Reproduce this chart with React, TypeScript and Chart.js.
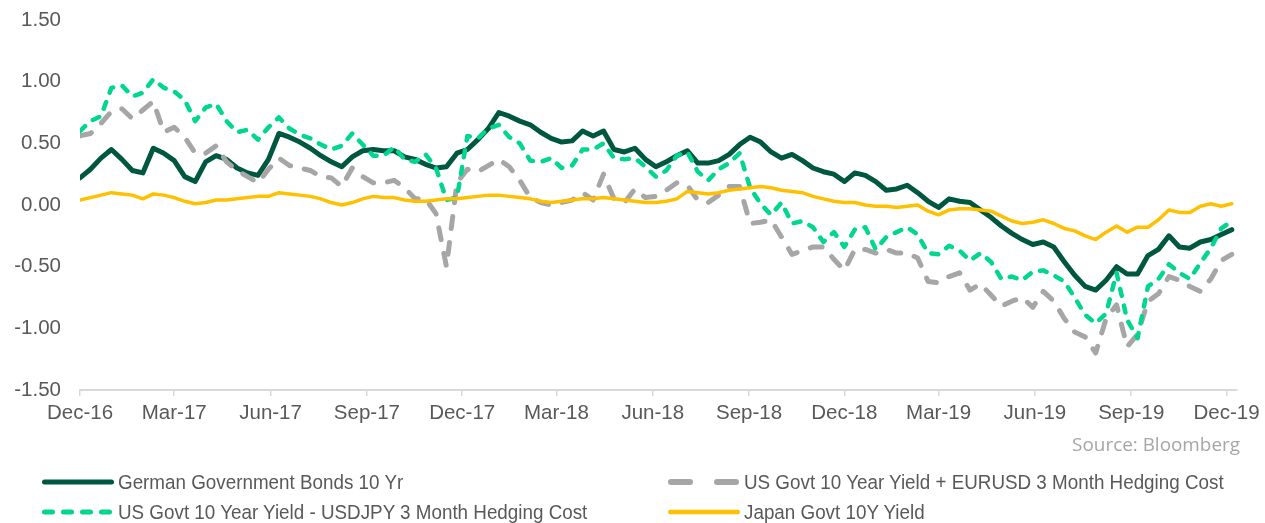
import React, { useEffect, useRef } from "react";
import { Chart, registerables } from "chart.js";

Chart.register(...registerables);

// ---- time axis (days since 1 Dec 2016, one sample every 10 days) ----
const STEP_DAYS = 10;
const AXIS_MAX_DAYS = 1105;
const tickLabels = [
  "Dec-16", "Mar-17", "Jun-17", "Sep-17", "Dec-17", "Mar-18", "Jun-18",
  "Sep-18", "Dec-18", "Mar-19", "Jun-19", "Sep-19", "Dec-19",
];
const yTicks = [-1.5, -1.0, -0.5, 0.0, 0.5, 1.0, 1.5];

// ---- series (yield, %) ----
const germanBund10y = [
  0.22, 0.29, 0.38, 0.45, 0.37, 0.28, 0.26, 0.46, 0.42, 0.36,
  0.23, 0.19, 0.35, 0.40, 0.37, 0.30, 0.26, 0.24, 0.37, 0.58,
  0.55, 0.51, 0.46, 0.40, 0.35, 0.31, 0.39, 0.44, 0.45, 0.44,
  0.44, 0.39, 0.37, 0.33, 0.30, 0.31, 0.42, 0.45, 0.53, 0.62,
  0.75, 0.72, 0.68, 0.65, 0.59, 0.54, 0.51, 0.52, 0.60, 0.56,
  0.60, 0.45, 0.43, 0.46, 0.37, 0.31, 0.35, 0.40, 0.44, 0.34,
  0.34, 0.36, 0.41, 0.49, 0.55, 0.51, 0.43, 0.38, 0.41, 0.36,
  0.30, 0.27, 0.25, 0.19, 0.26, 0.24, 0.19, 0.12, 0.13, 0.16,
  0.10, 0.03, -0.02, 0.05, 0.03, 0.02, -0.04, -0.10, -0.17, -0.23,
  -0.28, -0.32, -0.30, -0.34, -0.46, -0.57, -0.66, -0.69, -0.61, -0.50,
  -0.56, -0.56, -0.41, -0.36, -0.25, -0.34, -0.35, -0.30, -0.28, -0.24, -0.20,
];

const usPlusEurHedge = [
  0.56, 0.58, 0.66, 0.76, 0.78, 0.70, 0.77, 0.84, 0.59, 0.63,
  0.55, 0.42, 0.42, 0.48, 0.35, 0.28, 0.23, 0.18, 0.29, 0.38,
  0.32, 0.30, 0.28, 0.23, 0.22, 0.15, 0.30, 0.23, 0.18, 0.18,
  0.20, 0.14, 0.05, 0.05, -0.07, -0.50, 0.18, 0.29, 0.27, 0.32,
  0.37, 0.31, 0.20, 0.06, 0.02, 0.00, 0.02, 0.04, 0.10, 0.04,
  0.25, 0.05, 0.02, 0.13, 0.06, 0.07, 0.12, 0.18, 0.16, 0.04,
  0.02, 0.08, 0.15, 0.15, -0.15, -0.14, -0.12, -0.26, -0.40, -0.37,
  -0.34, -0.34, -0.44, -0.53, -0.36, -0.36, -0.39, -0.36, -0.39, -0.39,
  -0.43, -0.62, -0.63, -0.58, -0.55, -0.69, -0.64, -0.73, -0.82, -0.78,
  -0.75, -0.83, -0.70, -0.78, -0.92, -1.03, -1.07, -1.20, -0.92, -0.81,
  -1.15, -1.05, -0.78, -0.72, -0.58, -0.61, -0.66, -0.70, -0.60, -0.45, -0.40,
];

const usMinusJpyHedge = [
  0.60, 0.68, 0.72, 0.95, 0.97, 0.88, 0.91, 1.02, 0.95, 0.92,
  0.85, 0.68, 0.79, 0.82, 0.68, 0.59, 0.61, 0.53, 0.63, 0.71,
  0.62, 0.57, 0.54, 0.49, 0.45, 0.48, 0.58, 0.49, 0.40, 0.40,
  0.47, 0.37, 0.35, 0.41, 0.30, 0.04, 0.06, 0.56, 0.54, 0.62,
  0.65, 0.55, 0.50, 0.36, 0.35, 0.38, 0.30, 0.32, 0.45, 0.45,
  0.50, 0.38, 0.37, 0.38, 0.31, 0.23, 0.28, 0.40, 0.43, 0.27,
  0.20, 0.29, 0.34, 0.42, 0.14, 0.01, -0.08, 0.02, -0.15, -0.13,
  -0.18, -0.30, -0.22, -0.34, -0.20, -0.18, -0.36, -0.26, -0.22, -0.18,
  -0.24, -0.39, -0.40, -0.33, -0.37, -0.45, -0.39, -0.46, -0.60, -0.58,
  -0.61, -0.54, -0.53, -0.57, -0.62, -0.75, -0.89, -0.96, -0.88, -0.55,
  -0.93, -1.08, -0.66, -0.60, -0.48, -0.55, -0.60, -0.47, -0.35, -0.19, -0.13,
];

const japanGovt10y = [
  0.04, 0.06, 0.08, 0.10, 0.09, 0.08, 0.05, 0.09, 0.08, 0.06,
  0.03, 0.01, 0.02, 0.04, 0.04, 0.05, 0.06, 0.07, 0.07, 0.10,
  0.09, 0.08, 0.07, 0.05, 0.02, 0.00, 0.02, 0.05, 0.07, 0.06,
  0.06, 0.04, 0.03, 0.03, 0.04, 0.05, 0.05, 0.06, 0.07, 0.08,
  0.08, 0.07, 0.06, 0.05, 0.03, 0.02, 0.03, 0.04, 0.05, 0.05,
  0.06, 0.05, 0.04, 0.03, 0.02, 0.02, 0.03, 0.05, 0.11, 0.10,
  0.09, 0.10, 0.12, 0.13, 0.14, 0.15, 0.14, 0.12, 0.11, 0.10,
  0.07, 0.05, 0.03, 0.02, 0.02, 0.00, -0.01, -0.01, -0.02, -0.01,
  0.00, -0.05, -0.08, -0.04, -0.03, -0.03, -0.04, -0.05, -0.09, -0.13,
  -0.15, -0.14, -0.12, -0.15, -0.19, -0.21, -0.25, -0.28, -0.22, -0.17,
  -0.22, -0.18, -0.18, -0.12, -0.04, -0.06, -0.06, -0.01, 0.01, -0.01, 0.01,
];

const seriesLabels = [
  "German Government Bonds 10 Yr",
  "US Govt 10 Year Yield + EURUSD 3 Month Hedging Cost",
  "US Govt 10 Year Yield - USDJPY 3 Month Hedging Cost",
  "Japan Govt 10Y Yield",
];

const COLORS = {
  german: "#00573F",
  eur: "#A6A6A6",
  jpy: "#00D68F",
  japan: "#FFC000",
};

const DAY_MS = 86400000;
const START_MS = Date.UTC(2016, 11, 1);
const tickDays = tickLabels.map((_, k) =>
  Math.round((Date.UTC(2016, 11 + 3 * k, 1) - START_MS) / DAY_MS)
);

const toPoints = (vals: number[]) => vals.map((v, i) => ({ x: i * STEP_DAYS, y: v }));

const AXIS_FONT = "'Liberation Sans', Arial, Helvetica, sans-serif";

type LegendSpec = {
  label: string;
  color: string;
  width: number;
  dash: string;
  left: number;
  cy: number;
};

const SAMPLE_W = 80;
const SAMPLE_SPAN = 72;

function LegendItem({ spec }: { spec: LegendSpec }) {
  const x1 = 4 + spec.width / 2;
  const x2 = 4 + SAMPLE_SPAN - spec.width / 2;
  return (
    <div
      style={{
        position: "absolute",
        left: spec.left,
        top: spec.cy - 12,
        height: 24,
        display: "flex",
        alignItems: "center",
        whiteSpace: "nowrap",
      }}
    >
      <svg width={SAMPLE_W} height={12} style={{ display: "block", flex: "none" }}>
        <line
          x1={x1}
          y1={6}
          x2={x2}
          y2={6}
          stroke={spec.color}
          strokeWidth={spec.width}
          strokeLinecap="round"
          strokeDasharray={spec.dash || undefined}
        />
      </svg>
      <span
        style={{
          display: "inline-block",
          fontFamily: AXIS_FONT,
          fontSize: 20.5,
          lineHeight: "24px",
          color: "#595959",
          transform: "scaleX(0.918)",
          transformOrigin: "left center",
        }}
      >
        {spec.label}
      </span>
    </div>
  );
}

export default function App() {
  const canvasRef = useRef<HTMLCanvasElement | null>(null);

  useEffect(() => {
    const canvas = canvasRef.current;
    if (!canvas) return;
    const chart = new Chart(canvas, {
      type: "line",
      data: {
        datasets: [
          {
            label: seriesLabels[0],
            data: toPoints(germanBund10y),
            borderColor: COLORS.german,
            borderWidth: 5,
            pointRadius: 0,
            tension: 0,
            borderCapStyle: "round",
            borderJoinStyle: "round",
            order: 4,
          },
          {
            label: seriesLabels[1],
            data: toPoints(usPlusEurHedge),
            borderColor: COLORS.eur,
            borderWidth: 5,
            borderDash: [12, 14],
            pointRadius: 0,
            tension: 0,
            borderCapStyle: "round",
            borderJoinStyle: "round",
            order: 3,
          },
          {
            label: seriesLabels[2],
            data: toPoints(usMinusJpyHedge),
            borderColor: COLORS.jpy,
            borderWidth: 4.5,
            borderDash: [7, 10],
            pointRadius: 0,
            tension: 0,
            borderCapStyle: "round",
            borderJoinStyle: "round",
            order: 2,
          },
          {
            label: seriesLabels[3],
            data: toPoints(japanGovt10y),
            borderColor: COLORS.japan,
            borderWidth: 3.5,
            pointRadius: 0,
            tension: 0,
            borderCapStyle: "round",
            borderJoinStyle: "round",
            order: 1,
          },
        ],
      },
      options: {
        responsive: false,
        animation: false,
        events: [],
        layout: { padding: { top: 20, right: 28, left: 0, bottom: 0 } },
        plugins: {
          legend: { display: false },
          tooltip: { enabled: false },
          title: { display: false },
        },
        scales: {
          x: {
            type: "linear",
            min: 0,
            max: AXIS_MAX_DAYS,
            afterBuildTicks: (scale: any) => {
              scale.ticks = tickDays.map((v) => ({ value: v }));
            },
            afterFit: (scale: any) => {
              scale.height = 133;
            },
            ticks: {
              autoSkip: false,
              maxRotation: 0,
              minRotation: 0,
              padding: 5,
              color: "#595959",
              font: { family: AXIS_FONT, size: 20.5 },
              callback: (_v: any, index: number) => tickLabels[index],
            },
            grid: {
              display: true,
              drawOnChartArea: false,
              drawTicks: true,
              tickLength: 6,
              color: "#D9D9D9",
              lineWidth: 1.5,
            },
            border: { display: true, color: "#D9D9D9", width: 2 },
          },
          y: {
            type: "linear",
            min: -1.5,
            max: 1.5,
            afterBuildTicks: (scale: any) => {
              scale.ticks = yTicks.map((v) => ({ value: v }));
            },
            afterFit: (scale: any) => {
              scale.width = 80;
              scale.paddingTop = 0;
              scale.paddingBottom = 0;
            },
            ticks: {
              padding: 19,
              color: "#595959",
              font: { family: AXIS_FONT, size: 20.5 },
              callback: (v: any) => Number(v).toFixed(2),
            },
            grid: { display: false, drawTicks: false },
            border: { display: false },
          },
        },
      },
    });
    return () => chart.destroy();
  }, []);

  const legend: LegendSpec[] = [
    { label: seriesLabels[0], color: COLORS.german, width: 5, dash: "", left: 38, cy: 482 },
    { label: seriesLabels[1], color: COLORS.eur, width: 6, dash: "19 27", left: 664, cy: 482 },
    { label: seriesLabels[2], color: COLORS.jpy, width: 5, dash: "8 11", left: 38, cy: 512 },
    { label: seriesLabels[3], color: COLORS.japan, width: 4.5, dash: "", left: 664, cy: 512 },
  ];

  return (
    <div
      style={{
        position: "absolute",
        left: 0,
        top: 0,
        width: 1265,
        height: 523,
        background: "#FFFFFF",
        overflow: "hidden",
      }}
    >
      <canvas ref={canvasRef} width={1265} height={523} style={{ display: "block", width: 1265, height: 523 }} />
      <div
        style={{
          position: "absolute",
          right: 1265 - 1240,
          top: 432,
          fontFamily: "'Open Sans', 'Noto Sans', sans-serif",
          fontSize: 18.9,
          lineHeight: "24px",
          color: "#A6A6A6",
          whiteSpace: "nowrap",
        }}
      >
        Source: Bloomberg
      </div>
      {legend.map((s) => (
        <LegendItem key={s.label} spec={s} />
      ))}
    </div>
  );
}
